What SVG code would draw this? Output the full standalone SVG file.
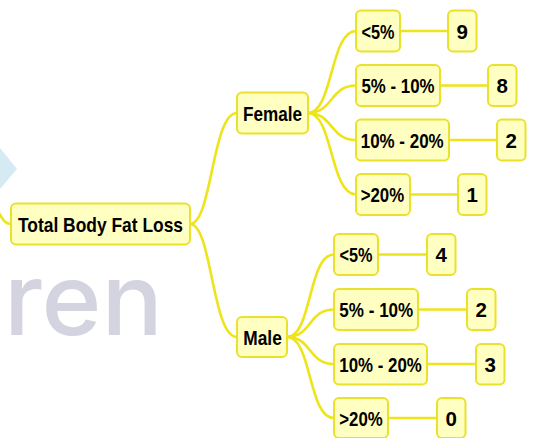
<svg xmlns="http://www.w3.org/2000/svg" width="533" height="438" viewBox="0 0 533 438">
  <style>
    .node rect { fill: #FFFFC2; stroke: #EAE22A; stroke-width: 2; }
    .node text { font-family: "Liberation Sans", Arial, sans-serif; font-weight: bold; font-size: 20.5px; fill: #000; }
    .num text { text-anchor: middle; }
    .links path { fill: none; stroke: #EDE41A; stroke-width: 2.6; stroke-linecap: round; }
  </style>

  <rect width="533" height="438" fill="#FFFFFF"/>

  <!-- background mark -->
  <polygon points="0,148 17,169 0,189" fill="#D6EAF3"/>
  <text x="4" y="335" font-family="Inter, 'Open Sans', sans-serif" font-weight="500" font-size="100" fill="#D4D4E0" textLength="159" lengthAdjust="spacingAndGlyphs">ren</text>

  <!-- connectors -->
  <g id="connectors" class="links">
    <path d="M-4,208 C3,220 5,224 11,224"/>
    <path d="M190,224 C212,224 212,113 237,113"/>
    <path d="M190,224 C212,224 212,337 237,337"/>

    <path d="M308,113 C333,113 330,31 356,31"/>
    <path d="M308,113 C333,113 330,85.5 356,85.5"/>
    <path d="M308,113 C333,113 330,140 356,140"/>
    <path d="M308,113 C333,113 330,194.5 356,194.5"/>

    <path d="M287,337 C312,337 308,254.5 334,254.5"/>
    <path d="M287,337 C312,337 308,309.5 334,309.5"/>
    <path d="M287,337 C312,337 308,364 334,364"/>
    <path d="M287,337 C312,337 308,418 334,418"/>

    <path d="M400,31 H448"/>
    <path d="M440,85.5 H488"/>
    <path d="M449,140 H497"/>
    <path d="M410,194.5 H458"/>

    <path d="M378,254.5 H427"/>
    <path d="M418,309.5 H467"/>
    <path d="M427,364 H476"/>
    <path d="M388,418 H437"/>
  </g>

  <!-- root -->
  <g id="root" class="node">
    <rect x="11" y="203.5" width="179" height="41" rx="5"/>
    <text x="18" y="232" textLength="165" lengthAdjust="spacingAndGlyphs">Total Body Fat Loss</text>
  </g>

  <!-- Female branch -->
  <g id="female" class="node">
    <rect x="237" y="92.5" width="71" height="41" rx="5"/>
    <text x="243" y="120.5" textLength="59" lengthAdjust="spacingAndGlyphs">Female</text>
  </g>
  <g id="f-lt5" class="node">
    <rect x="356" y="10.5" width="44" height="41" rx="5"/>
    <text x="361.5" y="38.5" textLength="33" lengthAdjust="spacingAndGlyphs">&lt;5%</text>
  </g>
  <g id="f-lt5-n" class="node num">
    <rect x="448" y="10.5" width="28.5" height="41" rx="5"/>
    <text x="462.3" y="38.5">9</text>
  </g>
  <g id="f-5-10" class="node">
    <rect x="356" y="65" width="84" height="41" rx="5"/>
    <text x="361.5" y="93" textLength="73" lengthAdjust="spacingAndGlyphs">5% - 10%</text>
  </g>
  <g id="f-5-10-n" class="node num">
    <rect x="488" y="65" width="28.5" height="41" rx="5"/>
    <text x="502.3" y="93">8</text>
  </g>
  <g id="f-10-20" class="node">
    <rect x="356" y="119.5" width="93" height="41" rx="5"/>
    <text x="360.7" y="147.5" textLength="83" lengthAdjust="spacingAndGlyphs">10% - 20%</text>
  </g>
  <g id="f-10-20-n" class="node num">
    <rect x="497" y="119.5" width="28.5" height="41" rx="5"/>
    <text x="511.3" y="147.5">2</text>
  </g>
  <g id="f-gt20" class="node">
    <rect x="356" y="174" width="54" height="41" rx="5"/>
    <text x="360.7" y="202" textLength="43.5" lengthAdjust="spacingAndGlyphs">&gt;20%</text>
  </g>
  <g id="f-gt20-n" class="node num">
    <rect x="458" y="174" width="28.5" height="41" rx="5"/>
    <text x="472.3" y="202">1</text>
  </g>

  <!-- Male branch -->
  <g id="male" class="node">
    <rect x="237" y="317" width="50" height="40" rx="5"/>
    <text x="243.3" y="344.5" textLength="38.5" lengthAdjust="spacingAndGlyphs">Male</text>
  </g>
  <g id="m-lt5" class="node">
    <rect x="334" y="234" width="44" height="41" rx="5"/>
    <text x="339.5" y="262" textLength="33" lengthAdjust="spacingAndGlyphs">&lt;5%</text>
  </g>
  <g id="m-lt5-n" class="node num">
    <rect x="427" y="234" width="28.5" height="41" rx="5"/>
    <text x="441.3" y="262">4</text>
  </g>
  <g id="m-5-10" class="node">
    <rect x="334" y="289" width="84" height="41" rx="5"/>
    <text x="339.3" y="317" textLength="74" lengthAdjust="spacingAndGlyphs">5% - 10%</text>
  </g>
  <g id="m-5-10-n" class="node num">
    <rect x="467" y="289" width="28.5" height="41" rx="5"/>
    <text x="481.3" y="317">2</text>
  </g>
  <g id="m-10-20" class="node">
    <rect x="334" y="344" width="93" height="40.5" rx="5"/>
    <text x="339.3" y="371.5" textLength="82.5" lengthAdjust="spacingAndGlyphs">10% - 20%</text>
  </g>
  <g id="m-10-20-n" class="node num">
    <rect x="476" y="344" width="28.5" height="40.5" rx="5"/>
    <text x="490.3" y="371.5">3</text>
  </g>
  <g id="m-gt20" class="node">
    <rect x="334" y="398" width="54" height="40" rx="5"/>
    <text x="339.3" y="425.5" textLength="43.5" lengthAdjust="spacingAndGlyphs">&gt;20%</text>
  </g>
  <g id="m-gt20-n" class="node num">
    <rect x="437" y="398" width="28.5" height="40" rx="5"/>
    <text x="451.3" y="425.5">0</text>
  </g>
</svg>
